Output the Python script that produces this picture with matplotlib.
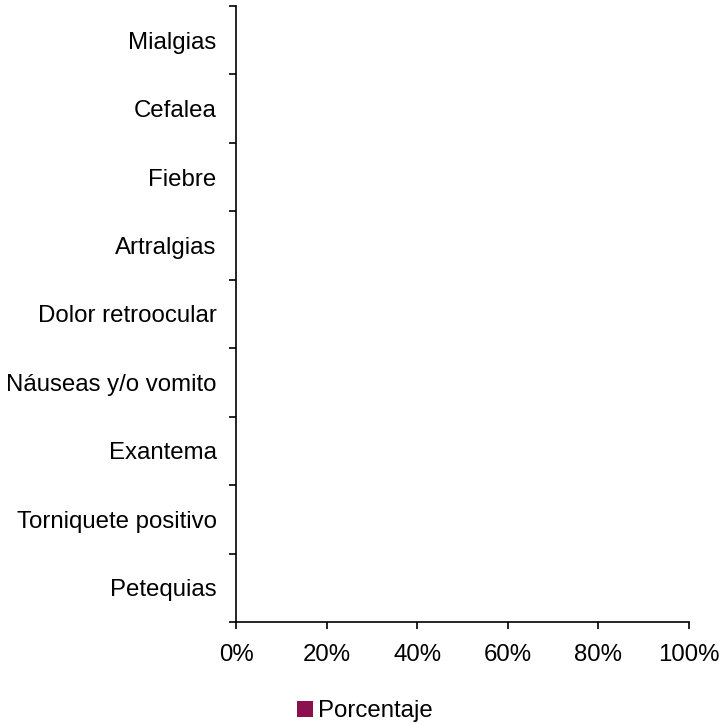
import matplotlib
matplotlib.use("Agg")
import matplotlib.pyplot as plt
from matplotlib.patches import Patch
from matplotlib.ticker import FixedLocator, PercentFormatter

plt.rcParams['font.family'] = ['Liberation Sans', 'DejaVu Sans']

# categories from bottom to top
sintomas = ["Petequias", "Torniquete positivo", "Exantema", "Náuseas y/o vomito",
            "Dolor retroocular", "Artralgias", "Fiebre", "Cefalea", "Mialgias"]
porcentaje = [0, 0, 0, 0, 0, 0, 0, 0, 0]
serie = "Porcentaje"
color = "#8B1050"
xticks = [0, 20, 40, 60, 80, 100]
fs = 17.3

fig = plt.figure(figsize=(7.22, 7.24), dpi=100)
ax = fig.add_axes([236/722, 1 - 622/724, (689 - 236)/722, (622 - 6)/724])

pos = list(range(len(sintomas)))
ax.barh(pos, porcentaje, height=0.6, color=color)

ax.set_xlim(0, 100)
ax.set_ylim(-0.5, len(sintomas) - 0.5)
ax.set_xticks(xticks)
ax.xaxis.set_major_formatter(PercentFormatter(decimals=0))

# category ticks sit between bars, labels at the centres
ax.yaxis.set_major_locator(FixedLocator([p - 0.5 for p in pos] + [len(sintomas) - 0.5]))
ax.yaxis.set_major_formatter(plt.NullFormatter())
ax.yaxis.set_minor_locator(FixedLocator(pos))
ax.set_yticklabels(sintomas, minor=True)

ax.tick_params(axis='y', which='major', length=5, width=1.2, direction='out')
ax.tick_params(axis='y', which='minor', length=0, pad=14, labelsize=fs)
ax.tick_params(axis='x', which='major', length=5, width=1.2, direction='out', pad=11, labelsize=fs)

for s in ['top', 'right']:
    ax.spines[s].set_visible(False)
for s in ['left', 'bottom']:
    ax.spines[s].set_linewidth(1.2)

handle = Patch(facecolor=color, edgecolor='none')
fig.legend([handle], [serie], loc='center', bbox_to_anchor=(365/722, 1 - 711/724),
           frameon=False, fontsize=fs, handlelength=0.65, handleheight=0.65,
           handletextpad=0.2, borderaxespad=0)

fig.savefig("out.png", dpi=100, facecolor='white')
